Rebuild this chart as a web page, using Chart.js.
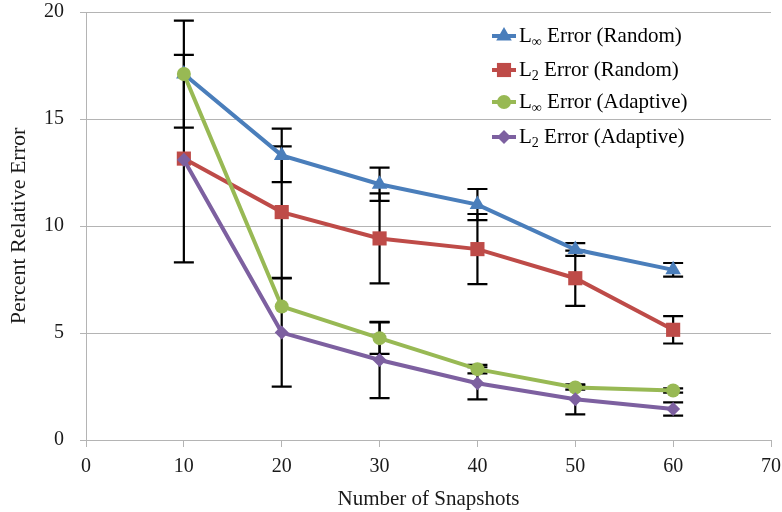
<!DOCTYPE html>
<html>
<head>
<meta charset="utf-8">
<script src="https://cdn.jsdelivr.net/npm/chart.js@4/dist/chart.umd.min.js"></script>
<style>
	html, body { margin: 0; padding: 0; background: #ffffff; }
	#wrap { width: 782px; height: 512px; }
</style>
</head>
<body>
<div id="wrap"><canvas id="chart" width="782" height="512"></canvas></div>
<script>
// values
var snapshots = [10, 20, 30, 40, 50, 60]

var linfRandom = [17.1, 13.3, 11.95, 11.0, 8.9, 7.95]
var l2Random = [13.15, 10.65, 9.42, 8.92, 7.56, 5.15]
var linfAdaptive = [17.1, 6.24, 4.76, 3.31, 2.45, 2.31]
var l2Adaptive = [13.1, 5.02, 3.74, 2.65, 1.9, 1.45]

var linfRandomErr = [2.5, 1.25, 0.78, 0.73, 0.3, 0.32]
var l2RandomErr = [4.85, 3.07, 2.1, 1.64, 1.29, 0.64]
var linfAdaptiveErr = [0, 0, 0.74, 0.2, 0.1, 0.1]
var l2AdaptiveErr = [0, 2.53, 1.78, 0.75, 0.7, 0.31]

var xTicks = [0, 10, 20, 30, 40, 50, 60, 70]
var yTicks = [0, 5, 10, 15, 20]

var FONT = "'Liberation Serif', 'Times New Roman', serif"
var GRID = '#b4b4b4'

function points(vals)
{
	var out = []
	for(var i = 0; i < snapshots.length; i++)
		out.push({x: snapshots[i], y: vals[i]})
	return out
}

var series = [
	{sub: '\u221e', rest: ' Error (Random)', data: linfRandom, err: linfRandomErr, color: '#4a7ebb', style: 'triangle', r: 9, order: 4},
	{sub: '2', rest: ' Error (Random)', data: l2Random, err: l2RandomErr, color: '#be4b48', style: 'rect', r: 10, order: 3},
	{sub: '\u221e', rest: ' Error (Adaptive)', data: linfAdaptive, err: linfAdaptiveErr, color: '#98b954', style: 'circle', r: 7, order: 2},
	{sub: '2', rest: ' Error (Adaptive)', data: l2Adaptive, err: l2AdaptiveErr, color: '#7d60a0', style: 'rectRot', r: 7, order: 1}
]

var datasets = []
for(var i = 0; i < series.length; i++)
{
	var s = series[i]
	datasets.push({
		label: 'L' + s.sub + s.rest,
		data: points(s.data),
		errors: s.err,
		borderColor: s.color,
		backgroundColor: s.color,
		pointBackgroundColor: s.color,
		pointBorderColor: s.color,
		pointStyle: s.style,
		pointRadius: s.r,
		pointBorderWidth: 0,
		borderWidth: 4,
		tension: 0,
		order: s.order
	})
}

// error bars, drawn under the lines
var errorBars = {
	id: 'errorBars',
	beforeDatasetsDraw: function(chart)
	{
		var ctx = chart.ctx
		var xs = chart.scales.x
		var ys = chart.scales.y
		ctx.save()
		ctx.strokeStyle = '#000000'
		ctx.lineWidth = 2.2
		chart.data.datasets.forEach(function(ds)
		{
			ds.data.forEach(function(p, j)
			{
				var e = ds.errors[j]
				if(!e) return
				var px = xs.getPixelForValue(p.x)
				var top = ys.getPixelForValue(p.y + e)
				var bot = ys.getPixelForValue(p.y - e)
				ctx.beginPath()
				ctx.moveTo(px, top)
				ctx.lineTo(px, bot)
				ctx.moveTo(px - 10, top)
				ctx.lineTo(px + 10, top)
				ctx.moveTo(px - 10, bot)
				ctx.lineTo(px + 10, bot)
				ctx.stroke()
			})
		})
		ctx.restore()
	}
}

// legend inside the plot with subscripts
var innerLegend = {
	id: 'innerLegend',
	afterDraw: function(chart)
	{
		var ctx = chart.ctx
		var rows = [36, 70, 102, 137]
		ctx.save()
		for(var i = 0; i < series.length; i++)
		{
			var s = series[i]
			var y = rows[i]
			ctx.strokeStyle = s.color
			ctx.lineWidth = 4
			ctx.beginPath()
			ctx.moveTo(492, y)
			ctx.lineTo(516, y)
			ctx.stroke()
			ctx.fillStyle = s.color
			Chart.helpers.drawPoint(ctx, {pointStyle: s.style, radius: s.r, borderWidth: 0}, 504, y)

			ctx.fillStyle = '#000000'
			ctx.textBaseline = 'middle'
			ctx.textAlign = 'left'
			ctx.font = '21px ' + FONT
			var x = 519
			ctx.fillText('L', x, y)
			x += ctx.measureText('L').width
			ctx.font = '14px ' + FONT
			ctx.fillText(s.sub, x, y + 6)
			x += ctx.measureText(s.sub).width
			ctx.font = '21px ' + FONT
			ctx.fillText(s.rest, x, y)
		}
		ctx.restore()
	}
}

new Chart(document.getElementById('chart'), {
	type: 'line',
	data: {datasets: datasets},
	plugins: [errorBars, innerLegend],
	options: {
		responsive: false,
		animation: false,
		layout: {padding: {top: 12, right: 11, left: 0, bottom: 0}},
		plugins:
		{
			legend: {display: false},
			tooltip: {enabled: false}
		},
		scales:
		{
			x:
			{
				type: 'linear',
				min: 0,
				max: 70,
				afterBuildTicks: function(s) { s.ticks = xTicks.map(function(v) { return {value: v} }) },
				afterFit: function(s) { s.height = 72; s.paddingLeft = 0; s.paddingRight = 0 },
				grid: {display: true, drawOnChartArea: false, drawTicks: true, tickLength: 7, color: GRID, lineWidth: 1},
				border: {display: true, color: GRID, width: 1},
				ticks: {color: '#1a1a1a', font: {family: FONT, size: 20}, padding: 8, maxRotation: 0},
				title: {display: true, text: 'Number of Snapshots', color: '#1a1a1a', font: {family: FONT, size: 21}, padding: {top: 0, bottom: 0}}
			},
			y:
			{
				min: 0,
				max: 20,
				afterBuildTicks: function(s) { s.ticks = yTicks.map(function(v) { return {value: v} }) },
				afterFit: function(s) { s.width = 86; s.paddingTop = 0; s.paddingBottom = 0 },
				grid: {display: true, drawOnChartArea: true, drawTicks: true, tickLength: 6, color: GRID, lineWidth: 1},
				border: {display: true, color: GRID, width: 1},
				ticks: {color: '#1a1a1a', font: {family: FONT, size: 20}, padding: 16},
				title: {display: true, text: 'Percent Relative Error', color: '#1a1a1a', font: {family: FONT, size: 22}, padding: {top: 6, bottom: 0}}
			}
		}
	}
})
</script>
</body>
</html>
